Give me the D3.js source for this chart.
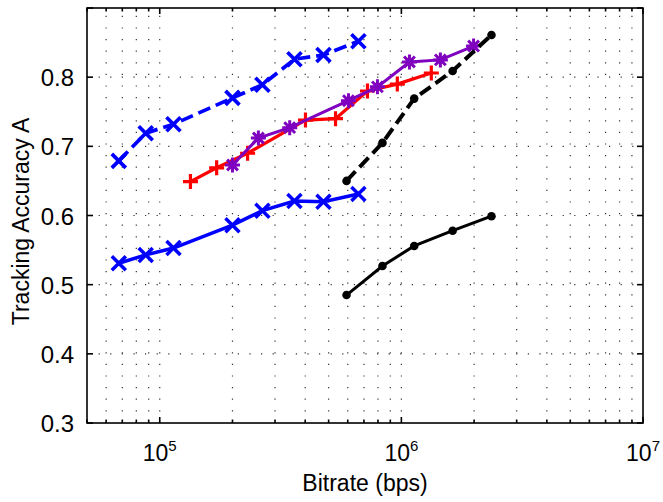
<!DOCTYPE html>
<html>
<head>
<meta charset="utf-8">
<script src="https://cdn.jsdelivr.net/npm/d3@7"></script>
<style>
body { margin: 0; background: #fff; }
text { font-family: "Liberation Sans", Arial, Helvetica, sans-serif; fill: #000; }
</style>
</head>
<body>
<svg id="chart" width="663" height="502"></svg>
<script>
// bitrate (bps) vs tracking accuracy
const blueX = [67700, 87500, 114000, 200000, 266000, 361000, 476000, 664000];
const blueDashY = [0.679, 0.719, 0.732, 0.770, 0.789, 0.826, 0.832, 0.852];
const blueSolidY = [0.531, 0.543, 0.553, 0.586, 0.607, 0.621, 0.620, 0.631];
const redX = [134000, 172000, 231000, 401000, 534000, 724000, 962000, 1330000];
const redY = [0.649, 0.669, 0.690, 0.738, 0.740, 0.780, 0.790, 0.806];
const purpleX = [200000, 256000, 345000, 604000, 796000, 1080000, 1450000, 1990000];
const purpleY = [0.673, 0.712, 0.727, 0.766, 0.786, 0.822, 0.825, 0.845];
const blackX = [593000, 835000, 1130000, 1630000, 2360000];
const blackDashY = [0.650, 0.705, 0.769, 0.809, 0.861];
const blackSolidY = [0.485, 0.527, 0.556, 0.578, 0.599];

const xDomain = [5e4, 1e7];
const yDomain = [0.3, 0.9];
const xTickVals = [1e5, 1e6, 1e7];
const yTickVals = [0.3, 0.4, 0.5, 0.6, 0.7, 0.8, 0.9];
const yTickLabels = ["0.3", "0.4", "0.5", "0.6", "0.7", "0.8", ""];
const xLabel = "Bitrate (bps)";
const yLabel = "Tracking Accuracy A";

const plotLeft = 87, plotRight = 643, plotTop = 8, plotBottom = 423;
const fontSize = 23;

var svg = d3.select("#chart");

var x = d3.scaleLog().domain(xDomain).range([plotLeft, plotRight]);
var y = d3.scaleLinear().domain(yDomain).range([plotBottom, plotTop]);

// all log ticks (majors + minors) inside the domain
var minorVals = [];
for (var e = 4; e <= 6; e++) {
    for (var m = 1; m <= 9; m++) {
        var v = m * Math.pow(10, e);
        if (v >= xDomain[0] && v <= xDomain[1]) minorVals.push(v);
    }
}
minorVals.push(1e7);

// dotted grid
var grid = svg.append("g").attr("class", "grid")
    .attr("stroke", "#333")
    .attr("stroke-width", 1.2)
    .attr("stroke-dasharray", "1.2,10.4");

grid.selectAll(".vgrid")
    .data(minorVals.filter(d => d > xDomain[0] && d < xDomain[1]))
    .enter().append("line")
    .attr("x1", d => x(d)).attr("x2", d => x(d))
    .attr("y1", plotBottom).attr("y2", plotTop);

grid.selectAll(".hgrid")
    .data(yTickVals.filter(d => d > yDomain[0] && d < yDomain[1]))
    .enter().append("line")
    .attr("x1", plotLeft).attr("x2", plotRight)
    .attr("y1", d => y(d)).attr("y2", d => y(d));

// series
var series = [
    {xs: blueX, ys: blueDashY, color: "#0000ff", width: 3.7, dash: "13,6", marker: "x", size: 7},
    {xs: blueX, ys: blueSolidY, color: "#0000ff", width: 3.5, dash: null, marker: "x", size: 7},
    {xs: redX, ys: redY, color: "#ff0000", width: 3.2, dash: null, marker: "+", size: 7.5},
    {xs: purpleX, ys: purpleY, color: "#7f00bf", width: 3, dash: null, marker: "*", size: 7.5},
    {xs: blackX, ys: blackDashY, color: "#000000", width: 4, dash: "13,6", marker: "o", size: 4.3},
    {xs: blackX, ys: blackSolidY, color: "#000000", width: 3, dash: null, marker: "o", size: 4.3}
];

var line = d3.line().x(d => x(d[0])).y(d => y(d[1]));

function markerPath(type, s) {
    if (type === "x") return `M${-s},${-s}L${s},${s}M${-s},${s}L${s},${-s}`;
    if (type === "+") return `M${-s},0L${s},0M0,${-s}L0,${s}`;
    if (type === "*") {
        var k = s * 0.72;
        return `M${-s},0L${s},0M0,${-s}L0,${s}M${-k},${-k}L${k},${k}M${-k},${k}L${k},${-k}`;
    }
    return "";
}

series.forEach(function (sr) {
    var pts = sr.xs.map((v, i) => [v, sr.ys[i]]);
    var g = svg.append("g");
    g.append("path")
        .datum(pts)
        .attr("d", line)
        .attr("fill", "none")
        .attr("stroke", sr.color)
        .attr("stroke-width", sr.width)
        .attr("stroke-dasharray", sr.dash);
    if (sr.marker === "o") {
        g.selectAll("circle")
            .data(pts)
            .enter().append("circle")
            .attr("cx", d => x(d[0]))
            .attr("cy", d => y(d[1]))
            .attr("r", sr.size)
            .attr("fill", sr.color);
    } else {
        g.selectAll(".mk")
            .data(pts)
            .enter().append("path")
            .attr("transform", d => `translate(${x(d[0])},${y(d[1])})`)
            .attr("d", markerPath(sr.marker, sr.size))
            .attr("fill", "none")
            .attr("stroke", sr.color)
            .attr("stroke-width", sr.width);
    }
});

// axes box and inward ticks
var ax = svg.append("g").attr("stroke", "#000").attr("stroke-width", 1.6);
ax.append("rect")
    .attr("x", plotLeft).attr("y", plotTop)
    .attr("width", plotRight - plotLeft).attr("height", plotBottom - plotTop)
    .attr("fill", "none");

minorVals.forEach(function (v) {
    var len = xTickVals.includes(v) ? 6 : 3.5;
    ax.append("line").attr("x1", x(v)).attr("x2", x(v)).attr("y1", plotBottom).attr("y2", plotBottom - len);
    ax.append("line").attr("x1", x(v)).attr("x2", x(v)).attr("y1", plotTop).attr("y2", plotTop + len);
});
yTickVals.forEach(function (v) {
    ax.append("line").attr("x1", plotLeft).attr("x2", plotLeft + 6).attr("y1", y(v)).attr("y2", y(v));
    ax.append("line").attr("x1", plotRight).attr("x2", plotRight - 6).attr("y1", y(v)).attr("y2", y(v));
});

// tick labels
svg.selectAll(".ylab")
    .data(yTickVals)
    .enter().append("text")
    .attr("x", plotLeft - 13)
    .attr("y", d => y(d) + 9)
    .attr("text-anchor", "end")
    .attr("font-size", 24)
    .text((d, i) => yTickLabels[i]);

var xl = svg.selectAll(".xlab")
    .data(xTickVals)
    .enter().append("text")
    .attr("x", d => x(d))
    .attr("y", 461)
    .attr("text-anchor", "middle")
    .attr("font-size", fontSize);
xl.append("tspan").text("10");
xl.append("tspan")
    .attr("font-size", 15)
    .attr("dy", -10)
    .text(d => Math.round(Math.log10(d)));

// axis titles
svg.append("text")
    .attr("x", (plotLeft + plotRight) / 2)
    .attr("y", 491)
    .attr("text-anchor", "middle")
    .attr("font-size", fontSize)
    .text(xLabel);

svg.append("text")
    .attr("transform", `translate(29,${(plotTop + plotBottom) / 2 + 6}) rotate(-90)`)
    .attr("text-anchor", "middle")
    .attr("font-size", fontSize)
    .text(yLabel);
</script>
</body>
</html>
